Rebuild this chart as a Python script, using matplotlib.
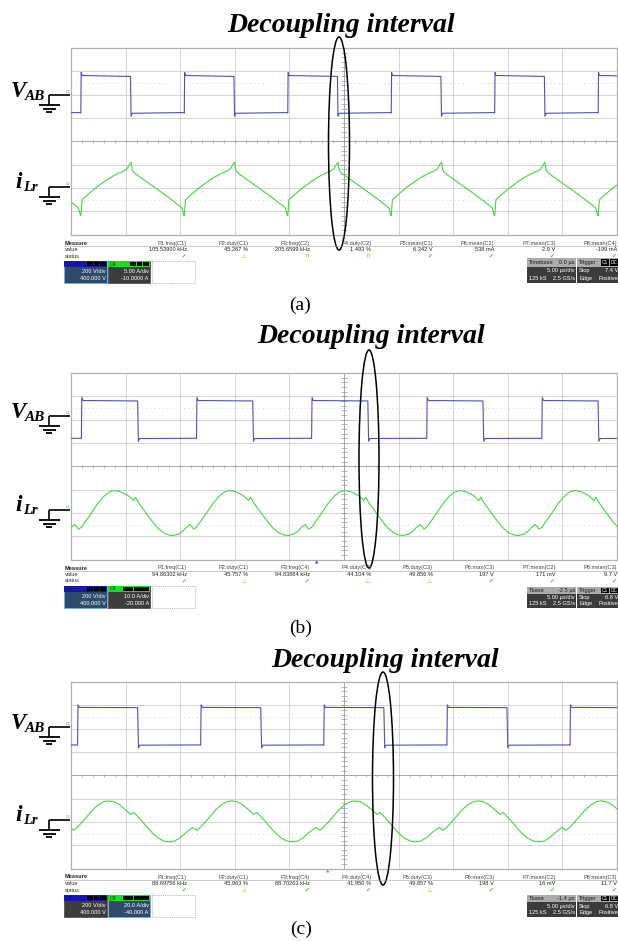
import numpy as np
import matplotlib
matplotlib.use("Agg")
import matplotlib.pyplot as plt
from matplotlib.patches import Rectangle, Ellipse

W, H = 618, 941

# ---------------- data ----------------
panel_tags = ["(a)", "(b)", "(c)"]
timebase_us_per_div = 5.0

# switching frequency reported by the scope (kHz) and first v_AB rising edge (µs)
freq_khz = [105.53900, 94.86302, 88.69756]
edge0_us = [0.90, 0.95, 0.60]

# one switching period of v_AB: phase after rising edge (µs), screen level (div)
vab_t_a = [0.00, 0.03, 0.12, 4.55, 4.60, 4.70, 9.40]
vab_v_a = [1.21, 2.95, 2.82, 2.78, 1.07, 1.20, 1.23]
vab_t_b = [0.00, 0.04, 0.15, 5.15, 5.22, 5.35, 10.45]
vab_v_b = [1.19, 2.95, 2.82, 2.80, 1.07, 1.19, 1.20]
vab_t_c = [0.00, 0.04, 0.15, 5.50, 5.58, 5.70, 11.20]
vab_v_c = [1.29, 3.02, 2.91, 2.90, 1.17, 1.29, 1.30]

# one switching period of i_Lr: phase after v_AB rising edge (µs), screen level (div)
ilr_t_a = [0.00, 0.11, 0.50, 1.00, 1.50, 2.00, 2.50, 3.00, 3.50, 3.95, 4.20, 4.45,
           4.60, 4.70, 4.85, 5.05, 6.00, 7.00, 8.00, 9.00, 9.25, 9.45]
ilr_v_a = [-3.19, -2.51, -2.35, -2.14, -1.95, -1.78, -1.62, -1.48, -1.36, -1.27, -1.20, -1.00,
           -0.90, -1.20, -1.33, -1.41, -1.73, -2.06, -2.40, -2.76, -2.86, -3.19]
ilr_t_b = [0.00, 0.25, 0.60, 1.00, 1.50, 2.00, 2.50, 3.00, 3.50, 4.00, 4.40, 4.78, 4.96,
           5.20, 5.60, 6.00, 6.50, 7.00, 7.50, 8.00, 8.40, 8.90, 9.30, 9.60, 9.94, 10.29]
ilr_v_b = [-2.62, -2.45, -2.22, -1.95, -1.60, -1.32, -1.12, -1.04, -1.08, -1.18, -1.30, -1.47, -1.33,
           -1.54, -1.80, -2.05, -2.37, -2.65, -2.85, -2.95, -2.97, -2.91, -2.78, -2.62, -2.50, -2.69]
ilr_t_c = [0.00, 0.40, 0.90, 1.40, 1.90, 2.40, 2.80, 3.30, 3.80, 4.30, 4.60, 4.85, 5.15,
           5.45, 5.90, 6.40, 6.90, 7.40, 7.90, 8.40, 8.90, 9.40, 9.90, 10.30, 10.55, 10.90, 11.10]
ilr_v_c = [-2.22, -2.02, -1.75, -1.48, -1.27, -1.14, -1.10, -1.13, -1.25, -1.44, -1.56, -1.68, -1.60,
           -1.74, -1.96, -2.25, -2.50, -2.70, -2.82, -2.86, -2.82, -2.68, -2.47, -2.32, -2.24, -2.36, -2.30]

vab_t = [vab_t_a, vab_t_b, vab_t_c]
vab_v = [vab_v_a, vab_v_b, vab_v_c]
ilr_t = [ilr_t_a, ilr_t_b, ilr_t_c]
ilr_v = [ilr_v_a, ilr_v_b, ilr_v_c]

# scope measurement table
meas_names = [
    ["P1:freq(C1)", "P2:duty(C1)", "P3:freq(C2)", "P4:duty(C2)",
     "P5:mean(C1)", "P6:mean(C2)", "P7:mean(C3)", "P8:mean(C4)"],
    ["P1:freq(C1)", "P2:duty(C1)", "P3:freq(C4)", "P4:duty(C4)",
     "P5:duty(C3)", "P6:max(C3)", "P7:mean(C2)", "P8:mean(C3)"],
    ["P1:freq(C1)", "P2:duty(C1)", "P3:freq(C4)", "P4:duty(C4)",
     "P5:duty(C3)", "P6:max(C3)", "P7:mean(C2)", "P8:mean(C3)"],
]
meas_values = [
    ["105.53900 kHz", "45.267 %", "205.6599 kHz", "1.493 %", "6.342 V", "538 mA", "2.9 V", "-199 mA"],
    ["94.86302 kHz", "45.757 %", "94.83884 kHz", "44.104 %", "49.856 %", "197 V", "171 mV", "9.7 V"],
    ["88.69756 kHz", "45.963 %", "88.70263 kHz", "41.950 %", "49.857 %", "198 V", "16 mV", "11.7 V"],
]
# status: ok / warn / pulse
meas_status = [
    ["ok", "warn", "pulse", "pulse", "ok", "ok", "ok", "ok"],
    ["ok", "warn", "ok", "warn", "warn", "ok", "ok", "ok"],
    ["ok", "warn", "ok", "ok", "warn", "ok", "ok", "ok"],
]
c3_setup = [["200 V/div", "400.000 V"]] * 3
c4_setup = [["5.00 A/div", "-10.0000 A"], ["10.0 A/div", "-20.000 A"], ["20.0 A/div", "-40.000 A"]]
tbase_head = [["Timebase", "0.0 µs"], ["Tbase", "-2.5 µs"], ["Tbase", "-1.4 µs"]]
trig_level = ["7.4 V", "6.8 V", "6.8 V"]
active_channel = ["C3", "C3", "C4"]

# ---------------- layout (figure pixels) ----------------
scr_left, scr_right = 71.0, 617.0
scr_top = [48.0, 373.0, 682.0]
scr_bot = [234.5, 559.5, 868.5]
title_xy = [(341, 32), (371, 343), (385, 667)]
tag_xy = [(300, 305), (301, 628), (301, 929)]
ellipse_geo = [(339, 143.5, 21, 213), (369, 459, 20, 218), (383, 778.5, 21, 213)]
wire_y_vab = [95, 416, 727]
wire_y_ilr = [187, 510, 820]
tb_top = [258, 587, 895]
tb_head_h = [8.5, 7.0, 7.0]

VAB_COLOR = "#5151b5"
ILR_COLOR = "#45d645"
GRID = "#cdcdcd"
AXIS = "#9a9a9a"

fig = plt.figure(figsize=(W / 100, H / 100), dpi=100)
fig.patch.set_facecolor("white")


def tile(phase, level, period, t0, tmax=50.0):
    ts, vs = [], []
    k_start = -int(np.ceil(t0 / period)) - 1
    k_end = int(tmax / period) + 2
    ph = np.asarray(phase)
    for k in range(k_start, k_end):
        ts.append(t0 + k * period + ph)
        vs.append(np.asarray(level))
    return np.concatenate(ts), np.concatenate(vs)


screens = []
for i in range(3):
    ax = fig.add_axes([scr_left / W, 1 - scr_bot[i] / H,
                       (scr_right - scr_left) / W, (scr_bot[i] - scr_top[i]) / H])
    ax.set_xlim(0, 10 * timebase_us_per_div)
    ax.set_ylim(-4, 4)
    ax.set_xticks([])
    ax.set_yticks([])
    for s in ax.spines.values():
        s.set_color("#b0b0b0")
        s.set_linewidth(0.9)
    for x in np.arange(5, 50, 5):
        if x != 25:
            ax.axvline(x, color=GRID, lw=0.6, zorder=0)
    for y in [-3, -2, -1, 1, 2, 3]:
        ax.axhline(y, color=GRID, lw=0.6, zorder=0)
    for y in [-2.5, 2.5]:
        ax.axhline(y, color="#c4c4c4", lw=0.6, ls=(0, (1, 4)), zorder=0)
    ax.axhline(0, color=AXIS, lw=0.6, zorder=0)
    ax.axvline(25, color=AXIS, lw=0.6, zorder=0)
    ax.vlines(np.arange(1, 50, 1), -0.07, 0.07, color=AXIS, lw=0.5, zorder=0)
    ax.hlines(np.arange(-3.8, 4.0, 0.2), 25 - 0.3, 25 + 0.3, color=AXIS, lw=0.5, zorder=0)

    period = 1000.0 / freq_khz[i]
    tv, vv = tile(vab_t[i], vab_v[i], period, edge0_us[i])
    ti, vi = tile(ilr_t[i], ilr_v[i], period, edge0_us[i])
    ax.plot(tv, vv, color=VAB_COLOR, lw=0.8, zorder=3)
    ax.plot(ti, vi, color=ILR_COLOR, lw=0.8, zorder=3)
    screens.append(ax)

# annotation layer in pixel coordinates
ov = fig.add_axes([0, 0, 1, 1])
ov.set_xlim(0, W)
ov.set_ylim(H, 0)
ov.axis("off")
ov.set_zorder(10)
ov.patch.set_visible(False)

SERIF = dict(family="Liberation Serif", weight="bold", style="italic")
SMALL = dict(family="Liberation Sans", fontsize=4.1)


def ground(y):
    ov.plot([49, 70], [y, y], color="black", lw=1.2, solid_capstyle="butt")
    ov.plot([49, 49], [y, y + 10], color="black", lw=1.2, solid_capstyle="butt")
    for dy, half in [(10, 10.5), (13.5, 6.5), (17, 3.3)]:
        ov.plot([49 - half, 49 + half], [y + dy, y + dy], color="black", lw=1.3,
                solid_capstyle="butt")


def status_icon(x, y, kind):
    if kind == "ok":
        ov.text(x, y, "\u2714", family="DejaVu Sans", fontsize=4.2, color="#3cc23c",
                ha="right", va="center")
    elif kind == "warn":
        ov.text(x, y, "\u26a0", family="DejaVu Sans", fontsize=4.2, color="#d8b000",
                ha="right", va="center")
    else:
        ov.text(x, y, "\u041b", family="DejaVu Sans", fontsize=4.2, color="#c8a800",
                ha="right", va="center")


for i in range(3):
    # heading and sub-figure tag
    ov.text(title_xy[i][0], title_xy[i][1], "Decoupling interval", fontsize=20,
            ha="center", va="baseline", **SERIF)
    ov.text(tag_xy[i][0], tag_xy[i][1], panel_tags[i], family="Liberation Serif",
            fontsize=14, ha="center", va="center")

    # decoupling interval marker
    cx, cy, ew, eh = ellipse_geo[i]
    ov.add_patch(Ellipse((cx, cy), ew, eh, fill=False, ec="black", lw=1.1))

    # channel labels with ground symbols
    yv, yi = wire_y_vab[i], wire_y_ilr[i]
    ground(yv)
    ground(yi)
    ov.text(11, yv + 2, "V", fontsize=16.5, ha="left", va="baseline", **SERIF)
    ov.text(25, yv + 5, "AB", fontsize=11, ha="left", va="baseline", **SERIF)
    ov.text(15, yi + 1, "i", fontsize=17, ha="left", va="baseline", **SERIF)
    ov.text(23.5, yi + 4, "Lr", fontsize=10.5, ha="left", va="baseline", **SERIF)
    ov.text(70, yv - 3, "C3", family="Liberation Sans", fontsize=2.6, color="#8080c8",
            ha="right", va="center")
    ov.text(70, yi - 3, "C4", family="Liberation Sans", fontsize=2.6, color="#50c850",
            ha="right", va="center")

    # measurement table
    b = scr_bot[i]
    y_hdr, y_val, y_sta = b + 8.5, b + 15.0, b + 21.5
    ov.plot([64, 617], [b + 11.8, b + 11.8], color="#a0a0a0", lw=0.4)
    ov.text(65, y_hdr, "Measure", color="#222222", weight="bold", ha="left", va="center", **SMALL)
    ov.text(65, y_val, "value", color="#333333", ha="left", va="center", **SMALL)
    ov.text(65, y_sta, "status", color="#333333", ha="left", va="center", **SMALL)
    for k in range(8):
        xr = 187 + 61.43 * k
        ov.text(xr, y_hdr, meas_names[i][k], color="#444444", ha="right", va="center", **SMALL)
        ov.text(xr, y_val, meas_values[i][k], color="#222222", ha="right", va="center", **SMALL)
        status_icon(xr - 1, y_sta, meas_status[i][k])

    # channel setup boxes
    top = b + 26.5
    hgt = 21.5
    for name, x0, x1, hdr_col, setup in [("C3", 64.3, 107.3, "#1818a8", c3_setup[i]),
                                         ("C4", 108.3, 150.3, "#16e016", c4_setup[i])]:
        selected = active_channel[i] == name
        body = "#2f4b6b" if selected else "#3d3d3d"
        ov.add_patch(Rectangle((x0, top), x1 - x0, hgt, fc=body,
                               ec="#6fb0f0" if selected else "#555555", lw=0.6))
        ov.add_patch(Rectangle((x0, top), x1 - x0, 6, fc=hdr_col, ec="none"))
        ov.text(x0 + 1.5, top + 3, name, family="Liberation Sans", fontsize=3.8,
                color="#101060" if name == "C3" else "#0b3a0b", ha="left", va="center")
        badges = [(x1 - 20, 6), (x1 - 13.5, 5.5), (x1 - 7.5, 6.5)]
        if name == "C4" and i > 0:
            badges = [(x1 - 27, 9.5), (x1 - 16.5, 15.5)]
        for bx, bw in badges:
            ov.add_patch(Rectangle((bx, top + 0.8), bw, 4.4, fc="black", ec="none"))
        ov.text(x1 - 1.5, top + 10.5, setup[0], color="white", ha="right", va="center", **SMALL)
        ov.text(x1 - 1.5, top + 17.2, setup[1], color="white", ha="right", va="center", **SMALL)
    ov.add_patch(Rectangle((151.7, top), 43.3, hgt, fill=False, ec="#9a9a9a", lw=0.5,
                           ls=(0, (1.5, 1.5))))

    # timebase and trigger boxes
    tt = tb_top[i]
    hh = tb_head_h[i]
    tb_bot = b + 48
    for x0, x1 in [(527, 576), (577, 618)]:
        ov.add_patch(Rectangle((x0, tt), x1 - x0, tb_bot - tt, fc="#3b3b3b", ec="none"))
        ov.add_patch(Rectangle((x0, tt), x1 - x0, hh, fc="#ababab", ec="none"))
    r1 = tt + hh + (tb_bot - tt - hh) * 0.28
    r2 = tt + hh + (tb_bot - tt - hh) * 0.74
    ov.text(529, tt + hh / 2, tbase_head[i][0], color="#1a1a1a", ha="left", va="center", **SMALL)
    ov.text(575, tt + hh / 2, tbase_head[i][1], color="#1a1a1a", ha="right", va="center", **SMALL)
    ov.text(575, r1, "5.00 µs/div", color="white", ha="right", va="center", **SMALL)
    ov.text(529, r2, "125 kS", color="white", ha="left", va="center", **SMALL)
    ov.text(575, r2, "2.5 GS/s", color="white", ha="right", va="center", **SMALL)
    ov.text(579, tt + hh / 2, "Trigger", color="#1a1a1a", ha="left", va="center", **SMALL)
    for bx, bw, lab in [(601, 8, "C1"), (610, 8, "DC")]:
        ov.add_patch(Rectangle((bx, tt + 0.8), bw, hh - 1.6, fc="black", ec="none"))
        ov.text(bx + bw / 2, tt + hh / 2, lab, family="Liberation Sans", fontsize=3.5,
                color="white", ha="center", va="center")
    ov.text(579, r1, "Stop", color="white", ha="left", va="center", **SMALL)
    ov.text(618, r1, trig_level[i], color="white", ha="right", va="center", **SMALL)
    ov.text(579, r2, "Edge", color="white", ha="left", va="center", **SMALL)
    ov.text(618, r2, "Positive", color="white", ha="right", va="center", **SMALL)

# trigger position markers below the screens
ov.text(344, 237.5, "\u25b2", family="DejaVu Sans", fontsize=3.2, color="#4a4ab0", ha="center", va="center")
ov.text(317, 563.0, "\u25b2", family="DejaVu Sans", fontsize=3.2, color="#3a3ab8", ha="center", va="center")
ov.text(328, 871.5, "\u25b2", family="DejaVu Sans", fontsize=3.2, color="#30c830", ha="center", va="center")

fig.savefig("out.png", dpi=100, facecolor="white")
